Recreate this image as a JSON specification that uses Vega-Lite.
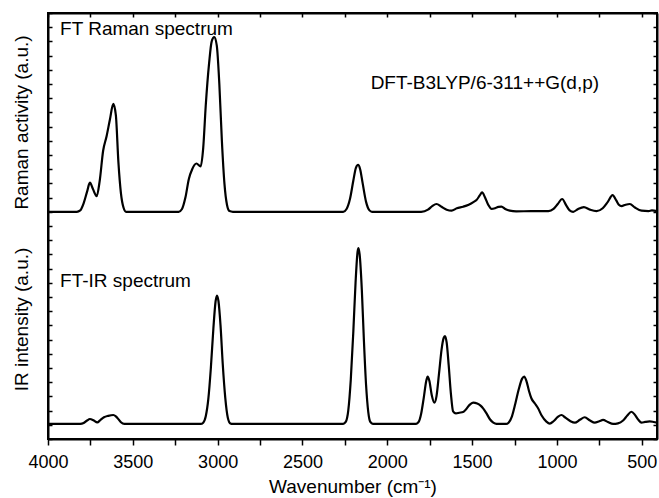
{
  "$schema": "https://vega.github.io/schema/vega-lite/v6.json",
  "width": 609,
  "height": 426,
  "autosize": {"type": "none"},
  "padding": {"left": 48, "top": 13, "right": 2, "bottom": 59},
  "config": {
    "view": {"stroke": "black", "strokeWidth": 2},
    "axis": {"domainColor": "black", "tickColor": "black", "labelColor": "black", "titleColor": "black", "grid": false, "labelFont": "Liberation Sans", "titleFont": "Liberation Sans", "domainWidth": 2, "tickWidth": 1.5}
  },
  "datasets": {
    "spectra": [
      {"series": "Raman", "wn": 4000, "v": 16.0}, {"series": "Raman", "wn": 3830, "v": 16.0}, {"series": "Raman", "wn": 3810, "v": 16.1}, {"series": "Raman", "wn": 3790, "v": 16.6}, {"series": "Raman", "wn": 3770, "v": 17.4}, {"series": "Raman", "wn": 3753, "v": 18.05}, {"series": "Raman", "wn": 3735, "v": 17.6}, {"series": "Raman", "wn": 3713, "v": 17.1}, {"series": "Raman", "wn": 3695, "v": 18.2}, {"series": "Raman", "wn": 3675, "v": 20.3}, {"series": "Raman", "wn": 3655, "v": 21.3}, {"series": "Raman", "wn": 3635, "v": 22.5}, {"series": "Raman", "wn": 3615, "v": 23.6}, {"series": "Raman", "wn": 3600, "v": 22.8}, {"series": "Raman", "wn": 3585, "v": 19.5}, {"series": "Raman", "wn": 3570, "v": 17.3}, {"series": "Raman", "wn": 3555, "v": 16.3}, {"series": "Raman", "wn": 3540, "v": 16.0}, {"series": "Raman", "wn": 3230, "v": 16.0}, {"series": "Raman", "wn": 3210, "v": 16.2}, {"series": "Raman", "wn": 3190, "v": 17.0}, {"series": "Raman", "wn": 3170, "v": 18.3}, {"series": "Raman", "wn": 3150, "v": 19.0}, {"series": "Raman", "wn": 3125, "v": 19.4}, {"series": "Raman", "wn": 3100, "v": 19.2}, {"series": "Raman", "wn": 3085, "v": 20.5}, {"series": "Raman", "wn": 3070, "v": 23.5}, {"series": "Raman", "wn": 3050, "v": 26.5}, {"series": "Raman", "wn": 3035, "v": 28.0}, {"series": "Raman", "wn": 3020, "v": 28.3}, {"series": "Raman", "wn": 3005, "v": 27.7}, {"series": "Raman", "wn": 2990, "v": 25.0}, {"series": "Raman", "wn": 2975, "v": 21.0}, {"series": "Raman", "wn": 2960, "v": 18.0}, {"series": "Raman", "wn": 2945, "v": 16.5}, {"series": "Raman", "wn": 2930, "v": 16.05}, {"series": "Raman", "wn": 2910, "v": 16.0}, {"series": "Raman", "wn": 2260, "v": 16.0}, {"series": "Raman", "wn": 2240, "v": 16.2}, {"series": "Raman", "wn": 2220, "v": 16.9}, {"series": "Raman", "wn": 2200, "v": 18.2}, {"series": "Raman", "wn": 2185, "v": 19.1}, {"series": "Raman", "wn": 2172, "v": 19.3}, {"series": "Raman", "wn": 2160, "v": 19.0}, {"series": "Raman", "wn": 2145, "v": 18.0}, {"series": "Raman", "wn": 2125, "v": 16.7}, {"series": "Raman", "wn": 2105, "v": 16.1}, {"series": "Raman", "wn": 2090, "v": 16.0}, {"series": "Raman", "wn": 1800, "v": 16.0}, {"series": "Raman", "wn": 1760, "v": 16.15}, {"series": "Raman", "wn": 1735, "v": 16.4}, {"series": "Raman", "wn": 1710, "v": 16.55}, {"series": "Raman", "wn": 1680, "v": 16.35}, {"series": "Raman", "wn": 1650, "v": 16.15}, {"series": "Raman", "wn": 1621, "v": 16.08}, {"series": "Raman", "wn": 1590, "v": 16.25}, {"series": "Raman", "wn": 1553, "v": 16.36}, {"series": "Raman", "wn": 1520, "v": 16.5}, {"series": "Raman", "wn": 1490, "v": 16.7}, {"series": "Raman", "wn": 1474, "v": 16.83}, {"series": "Raman", "wn": 1455, "v": 17.15}, {"series": "Raman", "wn": 1441, "v": 17.37}, {"series": "Raman", "wn": 1425, "v": 17.05}, {"series": "Raman", "wn": 1405, "v": 16.5}, {"series": "Raman", "wn": 1385, "v": 16.2}, {"series": "Raman", "wn": 1365, "v": 16.25}, {"series": "Raman", "wn": 1345, "v": 16.35}, {"series": "Raman", "wn": 1327, "v": 16.36}, {"series": "Raman", "wn": 1305, "v": 16.2}, {"series": "Raman", "wn": 1278, "v": 16.08}, {"series": "Raman", "wn": 1240, "v": 16.03}, {"series": "Raman", "wn": 1150, "v": 16.05}, {"series": "Raman", "wn": 1050, "v": 16.05}, {"series": "Raman", "wn": 1020, "v": 16.2}, {"series": "Raman", "wn": 995, "v": 16.55}, {"series": "Raman", "wn": 969, "v": 16.9}, {"series": "Raman", "wn": 945, "v": 16.45}, {"series": "Raman", "wn": 925, "v": 16.1}, {"series": "Raman", "wn": 904, "v": 16.0}, {"series": "Raman", "wn": 875, "v": 16.2}, {"series": "Raman", "wn": 841, "v": 16.33}, {"series": "Raman", "wn": 805, "v": 16.15}, {"series": "Raman", "wn": 767, "v": 16.05}, {"series": "Raman", "wn": 730, "v": 16.25}, {"series": "Raman", "wn": 700, "v": 16.7}, {"series": "Raman", "wn": 672, "v": 17.18}, {"series": "Raman", "wn": 650, "v": 16.8}, {"series": "Raman", "wn": 635, "v": 16.5}, {"series": "Raman", "wn": 619, "v": 16.4}, {"series": "Raman", "wn": 595, "v": 16.5}, {"series": "Raman", "wn": 570, "v": 16.55}, {"series": "Raman", "wn": 540, "v": 16.3}, {"series": "Raman", "wn": 501, "v": 16.08}, {"series": "Raman", "wn": 460, "v": 16.05}, {"series": "Raman", "wn": 440, "v": 16.1}, {"series": "Raman", "wn": 410, "v": 16.05},
      {"series": "IR", "wn": 4000, "v": 1.06}, {"series": "IR", "wn": 3810, "v": 1.06}, {"series": "IR", "wn": 3790, "v": 1.12}, {"series": "IR", "wn": 3770, "v": 1.3}, {"series": "IR", "wn": 3753, "v": 1.41}, {"series": "IR", "wn": 3730, "v": 1.3}, {"series": "IR", "wn": 3710, "v": 1.17}, {"series": "IR", "wn": 3690, "v": 1.35}, {"series": "IR", "wn": 3670, "v": 1.53}, {"series": "IR", "wn": 3645, "v": 1.63}, {"series": "IR", "wn": 3615, "v": 1.69}, {"series": "IR", "wn": 3600, "v": 1.6}, {"series": "IR", "wn": 3585, "v": 1.4}, {"series": "IR", "wn": 3570, "v": 1.18}, {"series": "IR", "wn": 3550, "v": 1.06}, {"series": "IR", "wn": 3100, "v": 1.06}, {"series": "IR", "wn": 3085, "v": 1.15}, {"series": "IR", "wn": 3070, "v": 1.6}, {"series": "IR", "wn": 3055, "v": 2.8}, {"series": "IR", "wn": 3040, "v": 5.0}, {"series": "IR", "wn": 3025, "v": 7.8}, {"series": "IR", "wn": 3012, "v": 9.7}, {"series": "IR", "wn": 3004, "v": 10.1}, {"series": "IR", "wn": 2995, "v": 9.7}, {"series": "IR", "wn": 2983, "v": 8.0}, {"series": "IR", "wn": 2970, "v": 5.3}, {"series": "IR", "wn": 2955, "v": 2.9}, {"series": "IR", "wn": 2940, "v": 1.5}, {"series": "IR", "wn": 2925, "v": 1.1}, {"series": "IR", "wn": 2910, "v": 1.06}, {"series": "IR", "wn": 2260, "v": 1.06}, {"series": "IR", "wn": 2245, "v": 1.2}, {"series": "IR", "wn": 2230, "v": 2.0}, {"series": "IR", "wn": 2215, "v": 4.2}, {"series": "IR", "wn": 2200, "v": 7.6}, {"series": "IR", "wn": 2187, "v": 11.0}, {"series": "IR", "wn": 2175, "v": 13.2}, {"series": "IR", "wn": 2170, "v": 13.45}, {"series": "IR", "wn": 2163, "v": 13.0}, {"series": "IR", "wn": 2150, "v": 10.5}, {"series": "IR", "wn": 2138, "v": 7.0}, {"series": "IR", "wn": 2125, "v": 3.8}, {"series": "IR", "wn": 2112, "v": 1.9}, {"series": "IR", "wn": 2100, "v": 1.2}, {"series": "IR", "wn": 2085, "v": 1.06}, {"series": "IR", "wn": 1830, "v": 1.06}, {"series": "IR", "wn": 1815, "v": 1.2}, {"series": "IR", "wn": 1800, "v": 1.8}, {"series": "IR", "wn": 1785, "v": 2.9}, {"series": "IR", "wn": 1770, "v": 4.1}, {"series": "IR", "wn": 1762, "v": 4.4}, {"series": "IR", "wn": 1752, "v": 4.1}, {"series": "IR", "wn": 1738, "v": 3.1}, {"series": "IR", "wn": 1722, "v": 2.56}, {"series": "IR", "wn": 1710, "v": 3.0}, {"series": "IR", "wn": 1695, "v": 4.6}, {"series": "IR", "wn": 1680, "v": 6.3}, {"series": "IR", "wn": 1668, "v": 7.1}, {"series": "IR", "wn": 1660, "v": 7.25}, {"series": "IR", "wn": 1650, "v": 6.8}, {"series": "IR", "wn": 1638, "v": 5.2}, {"series": "IR", "wn": 1625, "v": 3.2}, {"series": "IR", "wn": 1612, "v": 1.95}, {"series": "IR", "wn": 1595, "v": 1.8}, {"series": "IR", "wn": 1575, "v": 1.85}, {"series": "IR", "wn": 1553, "v": 1.9}, {"series": "IR", "wn": 1535, "v": 2.1}, {"series": "IR", "wn": 1515, "v": 2.4}, {"series": "IR", "wn": 1494, "v": 2.56}, {"series": "IR", "wn": 1470, "v": 2.5}, {"series": "IR", "wn": 1450, "v": 2.35}, {"series": "IR", "wn": 1435, "v": 2.16}, {"series": "IR", "wn": 1415, "v": 1.8}, {"series": "IR", "wn": 1395, "v": 1.39}, {"series": "IR", "wn": 1375, "v": 1.15}, {"series": "IR", "wn": 1356, "v": 1.06}, {"series": "IR", "wn": 1300, "v": 1.06}, {"series": "IR", "wn": 1285, "v": 1.15}, {"series": "IR", "wn": 1265, "v": 1.6}, {"series": "IR", "wn": 1245, "v": 2.5}, {"series": "IR", "wn": 1225, "v": 3.5}, {"series": "IR", "wn": 1205, "v": 4.25}, {"series": "IR", "wn": 1193, "v": 4.4}, {"series": "IR", "wn": 1180, "v": 4.1}, {"series": "IR", "wn": 1165, "v": 3.4}, {"series": "IR", "wn": 1150, "v": 2.85}, {"series": "IR", "wn": 1130, "v": 2.5}, {"series": "IR", "wn": 1111, "v": 2.16}, {"series": "IR", "wn": 1090, "v": 1.65}, {"series": "IR", "wn": 1062, "v": 1.22}, {"series": "IR", "wn": 1042, "v": 1.08}, {"series": "IR", "wn": 1020, "v": 1.25}, {"series": "IR", "wn": 995, "v": 1.55}, {"series": "IR", "wn": 973, "v": 1.69}, {"series": "IR", "wn": 950, "v": 1.5}, {"series": "IR", "wn": 920, "v": 1.25}, {"series": "IR", "wn": 894, "v": 1.15}, {"series": "IR", "wn": 865, "v": 1.35}, {"series": "IR", "wn": 836, "v": 1.53}, {"series": "IR", "wn": 805, "v": 1.3}, {"series": "IR", "wn": 777, "v": 1.15}, {"series": "IR", "wn": 750, "v": 1.25}, {"series": "IR", "wn": 728, "v": 1.34}, {"series": "IR", "wn": 700, "v": 1.2}, {"series": "IR", "wn": 669, "v": 1.06}, {"series": "IR", "wn": 640, "v": 1.1}, {"series": "IR", "wn": 610, "v": 1.3}, {"series": "IR", "wn": 585, "v": 1.65}, {"series": "IR", "wn": 561, "v": 1.92}, {"series": "IR", "wn": 540, "v": 1.7}, {"series": "IR", "wn": 520, "v": 1.35}, {"series": "IR", "wn": 501, "v": 1.15}, {"series": "IR", "wn": 480, "v": 1.2}, {"series": "IR", "wn": 453, "v": 1.24}, {"series": "IR", "wn": 430, "v": 1.2}, {"series": "IR", "wn": 410, "v": 1.15}
    ],
    "leftLabels": [
      {"label": "FT Raman spectrum", "wn": 3929, "v": 28.85},
      {"label": "FT-IR spectrum", "wn": 3929, "v": 11.15},
      {"label": "DFT-B3LYP/6-311++G(d,p)", "wn": 2098, "v": 25.07}
    ],
    "topEdge": [{"wn": 4000, "wn2": 410, "v": 30}],
    "rightEdge": [{"wn": 410, "v": 0, "v2": 30}]
  },
  "layer": [
    {
      "data": {"name": "spectra"},
      "mark": {"type": "line", "color": "black", "strokeWidth": 2.2, "interpolate": "monotone"},
      "encoding": {
        "x": {"field": "wn", "type": "quantitative", "scale": {"domain": [410, 4000], "reverse": true, "nice": false, "zero": false},
          "axis": {"orient": "bottom", "values": [500, 750, 1000, 1250, 1500, 1750, 2000, 2250, 2500, 2750, 3000, 3250, 3500, 3750, 4000], "labelExpr": "datum.value % 500 == 0 ? datum.label : ''", "format": "d", "tickSize": 6, "labelFontSize": 18, "labelPadding": 8, "title": "Wavenumber (cm⁻¹)", "titleFontSize": 19, "titleFontWeight": "normal", "titlePadding": 6, "labelFlush": false, "labelOverlap": false}},
        "y": {"field": "v", "type": "quantitative", "scale": {"domain": [0, 30], "nice": false, "zero": false},
          "axis": {"orient": "left", "values": [0,1,2,3,4,5,6,7,8,9,10,11,12,13,14,15,16,17,18,19,20,21,22,23,24,25,26,27,28,29,30], "labels": false, "tickSize": -4, "title": "Raman activity (a.u.)", "titleFontSize": 19, "titleFontWeight": "normal", "titleAngle": 270, "titleX": -27, "titleY": 109, "titleAlign": "center", "titleBaseline": "middle"}},
        "detail": {"field": "series"}
      }
    },
    {
      "data": {"name": "spectra"},
      "mark": {"type": "line", "strokeOpacity": 0},
      "encoding": {
        "x": {"field": "wn", "type": "quantitative", "axis": {"orient": "top", "values": [500, 750, 1000, 1250, 1500, 1750, 2000, 2250, 2500, 2750, 3000, 3250, 3500, 3750, 4000], "labels": false, "tickSize": -4, "title": null}},
        "y": {"field": "v", "type": "quantitative", "axis": {"orient": "right", "values": [0,1,2,3,4,5,6,7,8,9,10,11,12,13,14,15,16,17,18,19,20,21,22,23,24,25,26,27,28,29,30], "labels": false, "tickSize": -4, "title": "IR intensity (a.u.)", "titleFontSize": 19, "titleFontWeight": "normal", "titleAngle": 270, "titleX": -636, "titleY": 306, "titleAlign": "center", "titleBaseline": "middle"}},
        "detail": {"field": "series"}
      }
    },
    {
      "data": {"name": "topEdge"},
      "mark": {"type": "rule", "color": "black", "strokeWidth": 2},
      "encoding": {
        "x": {"field": "wn", "type": "quantitative", "axis": null},
        "x2": {"field": "wn2"},
        "y": {"field": "v", "type": "quantitative", "axis": null}
      }
    },
    {
      "data": {"name": "rightEdge"},
      "mark": {"type": "rule", "color": "black", "strokeWidth": 2},
      "encoding": {
        "x": {"field": "wn", "type": "quantitative", "axis": null},
        "y": {"field": "v", "type": "quantitative", "axis": null},
        "y2": {"field": "v2"}
      }
    },
    {
      "data": {"name": "leftLabels"},
      "mark": {"type": "text", "fontSize": 19, "color": "black", "baseline": "middle", "align": "left", "font": "Liberation Sans"},
      "encoding": {
        "x": {"field": "wn", "type": "quantitative", "axis": null},
        "y": {"field": "v", "type": "quantitative", "axis": null},
        "text": {"field": "label"}
      }
    }
  ],
  "resolve": {"axis": {"x": "independent", "y": "independent"}}
}
